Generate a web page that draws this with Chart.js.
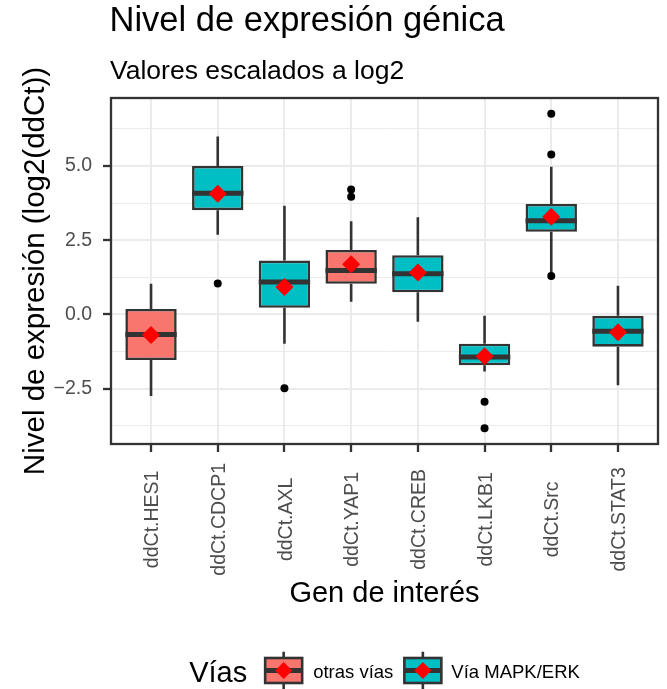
<!DOCTYPE html>
<html lang="es">
<head>
<meta charset="utf-8">
<title>Nivel de expresión génica</title>
<script src="https://cdn.jsdelivr.net/npm/chart.js@4/dist/chart.umd.min.js"></script>
<style>
  html, body { margin: 0; padding: 0; background: #ffffff; }
  canvas { display: block; }
</style>
</head>
<body>
<canvas id="chart" width="667" height="689"></canvas>
<script>
// Genes and the pathway each one belongs to (0 = otras vías, 1 = Vía MAPK/ERK)
const genes = ['ddCt.HES1', 'ddCt.CDCP1', 'ddCt.AXL', 'ddCt.YAP1', 'ddCt.CREB', 'ddCt.LKB1', 'ddCt.Src', 'ddCt.STAT3'];
const pathwayOf = [0, 1, 1, 0, 1, 1, 1, 1];
const pathwayNames = ['otras vías', 'Vía MAPK/ERK'];
const pathwayColors = ['#F8766D', '#00BFC4'];

// Box-plot summaries per gene (log2 scale)
const whiskerLow  = [-2.75, 2.68, -0.99, 0.42, -0.25, -1.93, 1.33, -2.39];
const q1          = [-1.54, 3.51, 0.22, 1.03, 0.74, -1.72, 2.78, -1.09];
const median      = [-0.68, 4.08, 1.09, 1.48, 1.37, -1.44, 3.15, -0.57];
const q3          = [0.18, 5.00, 1.81, 2.17, 1.99, -0.99, 3.72, -0.05];
const whiskerHigh = [1.03, 5.99, 3.66, 3.14, 3.27, -0.05, 4.97, 0.96];
const means       = [-0.70, 4.06, 0.92, 1.69, 1.41, -1.41, 3.29, -0.60];
const outliers    = [[], [1.04], [-2.49], [4.21, 3.96], [], [-2.95, -3.84], [6.76, 5.39, 1.29], []];

// Axis ticks
const yMajorTicks = [-2.5, 0, 2.5, 5];
const yMinorTicks = [-3.75, -1.25, 1.25, 3.75, 6.25];

const FONT = '"Liberation Sans", Arial, Helvetica, sans-serif';
const INK = '#333333';
const GRID = '#EBEBEB';
const LINE = 2.6;
const MEDIAN_LINE = 5;

// y range: data extent plus 5% on each side
const allValues = [...whiskerLow, ...whiskerHigh, ...outliers.flat()];
const dataMin = Math.min(...allValues);
const dataMax = Math.max(...allValues);
const yPad = 0.05 * (dataMax - dataMin);

const fmtTick = v => v.toFixed(1).replace('-', '\u2212');

// One floating-bar dataset per pathway (Q1..Q3)
const boxDatasets = pathwayNames.map((name, p) => ({
  type: 'bar',
  label: name,
  order: 2,
  grouped: false,
  data: genes.map((g, i) => ({ x: i + 1, y: [q1[i], q3[i]], gene: i })).filter(d => pathwayOf[d.gene] === p),
  backgroundColor: pathwayColors[p],
  borderColor: INK,
  borderWidth: LINE,
  borderSkipped: false,
  barPercentage: 0.77,
  categoryPercentage: 1.0
}));

const outlierDataset = {
  type: 'line',
  label: 'outliers',
  order: 1,
  showLine: false,
  data: outliers.flatMap((vals, i) => vals.map(v => ({ x: i + 1, y: v }))),
  pointStyle: 'circle',
  pointRadius: 4,
  pointBackgroundColor: '#000000',
  pointBorderWidth: 0,
  pointHoverRadius: 4
};

const meanDataset = {
  type: 'line',
  label: 'media',
  order: 0,
  showLine: false,
  data: means.map((m, i) => ({ x: i + 1, y: m })),
  pointStyle: 'rectRot',
  pointRadius: 9,
  pointBackgroundColor: '#FF0000',
  pointBorderWidth: 0,
  pointHoverRadius: 9
};

// Whiskers under the boxes, medians on top of them
const boxplotParts = {
  id: 'boxplotParts',
  beforeDatasetsDraw(chart) {
    const { ctx, scales: { x, y } } = chart;
    ctx.save();
    ctx.strokeStyle = INK;
    ctx.lineWidth = LINE;
    genes.forEach((g, i) => {
      const px = x.getPixelForValue(i + 1);
      ctx.beginPath();
      ctx.moveTo(px, y.getPixelForValue(whiskerHigh[i]));
      ctx.lineTo(px, y.getPixelForValue(q3[i]));
      ctx.moveTo(px, y.getPixelForValue(q1[i]));
      ctx.lineTo(px, y.getPixelForValue(whiskerLow[i]));
      ctx.stroke();
    });
    ctx.restore();
  },
  afterDatasetDraw(chart, args) {
    const ds = chart.data.datasets[args.index];
    if (ds.type !== 'bar') return;
    const { ctx, scales: { y } } = chart;
    ctx.save();
    ctx.strokeStyle = INK;
    ctx.lineWidth = MEDIAN_LINE;
    args.meta.data.forEach((el, j) => {
      const { x: bx, width } = el.getProps(['x', 'width'], true);
      const py = y.getPixelForValue(median[ds.data[j].gene]);
      ctx.beginPath();
      ctx.moveTo(bx - width / 2, py);
      ctx.lineTo(bx + width / 2, py);
      ctx.stroke();
    });
    ctx.restore();
  }
};

// Panel frame, titles, rotated gene labels and the bottom legend
const decorations = {
  id: 'decorations',
  beforeDraw(chart) {
    const { ctx, width, height } = chart;
    ctx.save();
    ctx.fillStyle = '#ffffff';
    ctx.fillRect(0, 0, width, height);
    ctx.restore();
  },
  afterDraw(chart) {
    const { ctx, chartArea: a, scales: { x } } = chart;
    ctx.save();

    // panel border
    ctx.strokeStyle = INK;
    ctx.lineWidth = 2.3;
    ctx.strokeRect(a.left, a.top, a.right - a.left, a.bottom - a.top);

    // title + subtitle
    ctx.fillStyle = '#000000';
    ctx.textAlign = 'left';
    ctx.textBaseline = 'alphabetic';
    ctx.font = `34.5px ${FONT}`;
    ctx.fillText('Nivel de expresión génica', a.left - 1.5, 31);
    ctx.font = `26.5px ${FONT}`;
    ctx.fillText('Valores escalados a log2', a.left - 1, 79);

    // gene labels, rotated and centred under each tick
    const fs = 19.5;
    ctx.font = `${fs}px ${FONT}`;
    ctx.fillStyle = '#4D4D4D';
    const maxW = Math.max(...genes.map(g => ctx.measureText(g).width));
    const cy = a.bottom + 8 + 11 + maxW / 2;
    x.ticks.forEach(t => {
      const px = x.getPixelForValue(t.value);
      ctx.save();
      ctx.translate(px, cy);
      ctx.rotate(-Math.PI / 2);
      ctx.textAlign = 'center';
      ctx.fillText(genes[t.value - 1], 0, 0.37 * fs);
      ctx.restore();
    });

    // axis titles
    ctx.fillStyle = '#000000';
    ctx.font = `29px ${FONT}`;
    ctx.textAlign = 'center';
    ctx.fillText('Gen de interés', (a.left + a.right) / 2, 602);
    ctx.save();
    ctx.translate(44, (a.top + a.bottom) / 2);
    ctx.rotate(-Math.PI / 2);
    ctx.font = `29.5px ${FONT}`;
    ctx.fillText('Nivel de expresión (log2(ddCt))', 0, 0);
    ctx.restore();

    // legend
    const keyW = 37, keyH = 25, keyCy = 670.5, whisk = 18.8;
    ctx.textAlign = 'left';
    ctx.font = `29px ${FONT}`;
    const titleW = ctx.measureText('Vías').width;
    ctx.font = `18.5px ${FONT}`;
    const labelW = pathwayNames.map(n => ctx.measureText(n).width);
    const total = titleW + 18 + keyW + 11 + labelW[0] + 11 + keyW + 10 + labelW[1];
    let lx = (a.left + a.right) / 2 - total / 2;
    ctx.font = `29px ${FONT}`;
    ctx.fillText('Vías', lx, 681.5);
    lx += titleW + 18;
    pathwayNames.forEach((name, p) => {
      const cx = lx + keyW / 2;
      ctx.strokeStyle = INK;
      ctx.lineWidth = LINE;
      ctx.beginPath();
      ctx.moveTo(cx, keyCy - whisk); ctx.lineTo(cx, keyCy - keyH / 2);
      ctx.moveTo(cx, keyCy + keyH / 2); ctx.lineTo(cx, keyCy + whisk);
      ctx.stroke();
      ctx.fillStyle = pathwayColors[p];
      ctx.fillRect(lx, keyCy - keyH / 2, keyW, keyH);
      ctx.strokeRect(lx, keyCy - keyH / 2, keyW, keyH);
      ctx.lineWidth = MEDIAN_LINE;
      ctx.beginPath();
      ctx.moveTo(lx, keyCy); ctx.lineTo(lx + keyW, keyCy);
      ctx.stroke();
      const r = 8.5;
      ctx.fillStyle = '#FF0000';
      ctx.beginPath();
      ctx.moveTo(cx - r, keyCy); ctx.lineTo(cx, keyCy - r);
      ctx.lineTo(cx + r, keyCy); ctx.lineTo(cx, keyCy + r);
      ctx.closePath();
      ctx.fill();
      lx += keyW + (p === 0 ? 11 : 10);
      ctx.fillStyle = '#000000';
      ctx.font = `18.5px ${FONT}`;
      ctx.fillText(name, lx, 678);
      lx += labelW[p] + 11;
    });

    ctx.restore();
  }
};

new Chart(document.getElementById('chart'), {
  type: 'bar',
  data: { datasets: [...boxDatasets, outlierDataset, meanDataset] },
  plugins: [boxplotParts, decorations],
  options: {
    responsive: false,
    animation: false,
    events: [],
    layout: { padding: { top: 98, right: 8, bottom: 0, left: 0 } },
    plugins: { legend: { display: false }, tooltip: { enabled: false }, title: { display: false } },
    scales: {
      x: {
        type: 'linear',
        offset: false,
        min: 0.4,
        max: genes.length + 0.6,
        afterBuildTicks: s => { s.ticks = genes.map((g, i) => ({ value: i + 1 })); },
        afterFit: s => { s.height = 245; },
        ticks: { display: false },
        border: { display: false },
        grid: { offset: false, color: GRID, lineWidth: 2, tickColor: INK, tickWidth: 2.3, tickLength: 8 }
      },
      y: {
        type: 'linear',
        min: dataMin - yPad,
        max: dataMax + yPad,
        afterBuildTicks: s => {
          s.ticks = [...yMajorTicks, ...yMinorTicks].sort((p, q) => p - q).map(v => ({ value: v }));
        },
        afterFit: s => { s.width = 111; },
        border: { display: false },
        ticks: {
          autoSkip: false,
          padding: 11,
          color: '#4D4D4D',
          font: { family: FONT, size: 19.5 },
          callback: v => (yMajorTicks.includes(v) ? fmtTick(v) : '')
        },
        grid: {
          color: GRID,
          lineWidth: c => (c.tick && yMajorTicks.includes(c.tick.value) ? 2 : 1),
          tickColor: c => (c.tick && yMajorTicks.includes(c.tick.value) ? INK : 'rgba(0,0,0,0)'),
          tickWidth: 2.3,
          tickLength: 8
        }
      }
    }
  }
});
</script>
</body>
</html>
